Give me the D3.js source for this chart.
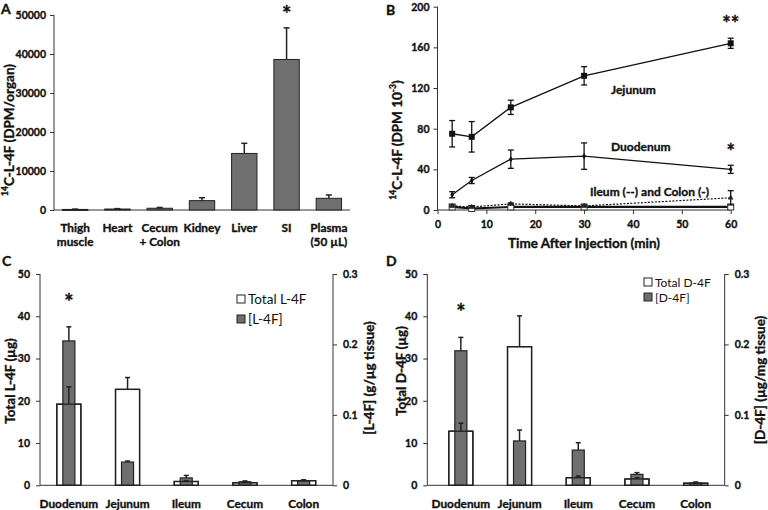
<!DOCTYPE html>
<html><head><meta charset="utf-8">
<script src="https://cdn.jsdelivr.net/npm/d3@7"></script>
<style>
body{margin:0;background:#fff;}
text{font-family:Lato,"Open Sans",sans-serif;}
</style></head>
<body><svg id="c" width="768" height="510"></svg>
<script>
// ---------- DATA ----------
// Panel A
const organsA = ["Thigh|muscle","Heart","Cecum|+ Colon","Kidney","Liver","SI","Plasma|(50 µL)"];
const dpmA = [150, 250, 450, 2400, 14500, 38600, 3000];
const dpmErrA = [80, 100, 200, 750, 2600, 8100, 850];
const ticksA = [0,10000,20000,30000,40000,50000];
// Panel B
const timesB = [3, 7, 15, 30, 60];
const jejunumB = [75, 72, 101, 132, 164];
const jejunumErrB = [13, 15, 7, 9, 5];
const duodenumB = [15, 29, 50, 53, 40];
const duodenumErrB = [3, 3, 9, 13, 4];
const ileumB = [4, 3, 6, 4, 12];
const ileumErrB = [1, 1, 1, 1, 7];
const colonB = [3, 1.5, 3, 3, 3];
const colonErrB = [0.5, 0.5, 0.5, 0.5, 0.5];
const ticksBy = [0,40,80,120,160,200];
const ticksBx = [0,10,20,30,40,50,60];
// Panels C and D
const segments = ["Duodenum","Jejunum","Ileum","Cecum","Colon"];
const totalL = [19.2, 22.7, 0.9, 0.6, 1.1];
const totalLErr = [4.1, 2.8, 0.2, 0.2, 0.2];
const concL = [0.205, 0.033, 0.0105, 0.005, 0.006];
const concLErr = [0.02, 0.0015, 0.0035, 0.0012, 0.001];
const totalD = [12.8, 32.8, 1.8, 1.5, 0.5];
const totalDErr = [1.9, 7.3, 0.4, 0.3, 0.2];
const concD = [0.191, 0.063, 0.050, 0.0155, 0.003];
const concDErr = [0.019, 0.0155, 0.0105, 0.0025, 0.0015];
const ticksCDleft = [0,10,20,30,40,50];
const ticksCDright = [0,0.1,0.2,0.3];

// ---------- DRAW ----------
const svg = d3.select("#c");
const GRAY = "#6f6f6f";
const BOLD = "bold";
const TICK = 10.5, CAT = 11.8, TITLE = 13.5;

function label(x,y,txt,opts={}){
  const w = opts.weight||BOLD;
  const t = svg.append("text").attr("x",x).attr("y",y)
    .attr("font-size",opts.size||12).attr("font-weight",w)
    .attr("text-anchor",opts.anchor||"middle").attr("fill","#111");
  if(w===BOLD) t.attr("stroke","#111").attr("stroke-width",0.35);
  if(opts.rot!==undefined){
    t.attr("transform",`rotate(${opts.rot},${x},${y})`).attr("dominant-baseline","central");
  }
  if(typeof txt==="function") txt(t); else t.text(txt);
  return t;
}
function styleAxis(g, size){
  g.selectAll("path,line").attr("stroke","#333").attr("stroke-width",1);
  g.selectAll("text").attr("font-size",size||TICK).attr("font-weight","bold")
    .attr("font-family","Lato,'Open Sans',sans-serif").attr("fill","#111")
    .attr("stroke","#111").attr("stroke-width",0.35);
}

// ===== Panel A =====
{
  const x = d3.scaleBand().domain(organsA).range([54,350]).paddingInner(0.4).paddingOuter(0.2);
  const y = d3.scaleLinear().domain([0,50000]).range([210,15]);
  const ga = svg.append("g").attr("transform","translate(54,0)")
    .call(d3.axisLeft(y).tickValues(ticksA).tickSize(4).tickPadding(4).tickFormat(d3.format("d")));
  ga.select(".domain").attr("d","M0,15V210");
  styleAxis(ga,TICK);
  svg.append("line").attr("x1",54).attr("x2",350).attr("y1",210).attr("y2",210).attr("stroke","#333");
  organsA.forEach((o,i)=>{
    const bx = x(o), bw = x.bandwidth();
    svg.append("rect").attr("x",bx).attr("width",bw).attr("y",y(dpmA[i]))
      .attr("height",Math.max(1,y(0)-y(dpmA[i]))).attr("fill",GRAY).attr("stroke","#222").attr("stroke-width",1);
    const cx = bx+bw/2;
    svg.append("line").attr("x1",cx).attr("x2",cx).attr("y1",y(dpmA[i])).attr("y2",y(dpmA[i]+dpmErrA[i])).attr("stroke","#222").attr("stroke-width",1.5);
    svg.append("line").attr("x1",cx-3).attr("x2",cx+3).attr("y1",y(dpmA[i]+dpmErrA[i])).attr("y2",y(dpmA[i]+dpmErrA[i])).attr("stroke","#222").attr("stroke-width",1.5);
    const parts = o.split("|");
    parts.forEach((p,k)=>label(cx,232+k*14,p,{size:CAT}));
  });
  label(x("SI")+x.bandwidth()/2,22,"*",{size:22});
  label(1,14,"A",{size:14,anchor:"start"});
  label(9,130,t=>{t.append("tspan").attr("font-size",8.5).attr("dy","-4").text("14");
    t.append("tspan").attr("dy","4").text("C-L-4F (DPM/organ)");},{size:TITLE,rot:-90});
}

// ===== Panel B =====
{
  const x = d3.scaleLinear().domain([0,60]).range([437.5,730.7]);
  const y = d3.scaleLinear().domain([0,200]).range([210,6.7]);
  const gy = svg.append("g").attr("transform","translate(437.5,0)")
    .call(d3.axisLeft(y).tickValues(ticksBy).tickSize(4).tickPadding(4));
  styleAxis(gy,TICK);
  gy.select(".domain").attr("d","M0,6.7V210");
  const gx = svg.append("g").attr("transform","translate(0,210)")
    .call(d3.axisBottom(x).tickValues(ticksBx).tickSize(4).tickPadding(7));
  styleAxis(gx,TICK);
  gx.select(".domain").attr("d","M437.5,0H730.7");
  const line = d3.line().x((d,i)=>x(timesB[i])).y(d=>y(d));
  function series(vals, errs, dash, width, marker){
    svg.append("path").attr("d",line(vals)).attr("fill","none").attr("stroke","#111")
      .attr("stroke-width",width).attr("stroke-dasharray",dash||null);
    vals.forEach((v,i)=>{
      const cx = x(timesB[i]);
      const lo=y(v-errs[i]), hi=y(v+errs[i]);
      svg.append("line").attr("x1",cx).attr("x2",cx).attr("y1",lo).attr("y2",hi).attr("stroke","#111").attr("stroke-width",1.3);
      [lo,hi].forEach(yy=>svg.append("line").attr("x1",cx-3).attr("x2",cx+3).attr("y1",yy).attr("y2",yy).attr("stroke","#111").attr("stroke-width",1.3));
      marker(cx,y(v));
    });
  }
  series(colonB, colonErrB, null, 2.2, (cx,cy)=>svg.append("rect").attr("x",cx-3).attr("y",cy-3).attr("width",6).attr("height",6).attr("fill","#fff").attr("stroke","#333").attr("stroke-width",1));
  series(ileumB, ileumErrB, "2,1.5", 1.2, (cx,cy)=>svg.append("path").attr("d",d3.symbol(d3.symbolTriangle,14)()).attr("transform",`translate(${cx},${cy})`).attr("fill","#222"));
  series(duodenumB, duodenumErrB, null, 1.3, (cx,cy)=>svg.append("path").attr("d",d3.symbol(d3.symbolDiamond,12)()).attr("transform",`translate(${cx},${cy})`).attr("fill","#111"));
  series(jejunumB, jejunumErrB, null, 1.3, (cx,cy)=>svg.append("rect").attr("x",cx-3).attr("y",cy-3).attr("width",6).attr("height",6).attr("fill","#111"));
  label(611,94,"Jejunum",{size:12,anchor:"start"});
  label(611,151,"Duodenum",{size:12,anchor:"start"});
  label(590,196,"Ileum (--) and Colon (-)",{size:12,anchor:"start"});
  label(x(60),31,"**",{size:20});
  label(x(60),159,"*",{size:20});
  label(584,248,"Time After Injection (min)",{size:TITLE});
  label(386,15,"B",{size:14,anchor:"start"});
  label(397,140,t=>{t.append("tspan").attr("font-size",8.5).attr("dy","-4").text("14");
    t.append("tspan").attr("dy","4").text("C-L-4F (DPM 10");
    t.append("tspan").attr("font-size",8.5).attr("dy","-4").text("-3");
    t.append("tspan").attr("dy","4").text(")");},{size:TITLE,rot:-90});
}

// ===== Panels C & D =====
function dualPanel(o){
  const x = d3.scaleBand().domain(segments).range([o.bx0,o.bx1]).paddingInner(0.59).paddingOuter(0.295);
  const yl = d3.scaleLinear().domain([0,50]).range([485.3,274]);
  const yr = d3.scaleLinear().domain([0,0.3]).range([485.3,274]);
  const gl = svg.append("g").attr("transform",`translate(${o.ax0},0)`)
    .call(d3.axisLeft(yl).tickValues(ticksCDleft).tickSize(4).tickPadding(6));
  styleAxis(gl,TICK); gl.select(".domain").attr("d","M0,274V485.3");
  const gr = svg.append("g").attr("transform",`translate(${o.ax1},0)`)
    .call(d3.axisRight(yr).tickValues(ticksCDright).tickSize(4).tickPadding(6).tickFormat(d=>d===0?"0":d3.format(".1f")(d)));
  styleAxis(gr,TICK); gr.select(".domain").attr("d","M0,274V485.3");
  svg.append("line").attr("x1",o.ax0).attr("x2",o.ax1).attr("y1",485.3).attr("y2",485.3).attr("stroke","#333");
  const errBar=(cx,y0,y1)=>{
    svg.append("line").attr("x1",cx).attr("x2",cx).attr("y1",y0).attr("y2",y1).attr("stroke","#222").attr("stroke-width",1.5);
    svg.append("line").attr("x1",cx-2.5).attr("x2",cx+2.5).attr("y1",y1).attr("y2",y1).attr("stroke","#222").attr("stroke-width",1.5);
  };
  segments.forEach((s,i)=>{
    const bx=x(s), bw=x.bandwidth(), cx=bx+bw/2;
    svg.append("rect").attr("x",bx).attr("width",bw).attr("y",yl(o.total[i])).attr("height",yl(0)-yl(o.total[i]))
      .attr("fill","#fff").attr("stroke","#222").attr("stroke-width",1.3);
    const gw = bw/2;
    svg.append("rect").attr("x",cx-gw/2).attr("width",gw).attr("y",yr(o.conc[i])).attr("height",yr(0)-yr(o.conc[i]))
      .attr("fill",GRAY).attr("stroke","#222").attr("stroke-width",1.2);
    // white bar outline drawn over the grey bar
    svg.append("rect").attr("x",bx).attr("width",bw).attr("y",yl(o.total[i])).attr("height",yl(0)-yl(o.total[i]))
      .attr("fill","none").attr("stroke","#222").attr("stroke-width",1.3);
    errBar(cx,yl(o.total[i]),yl(o.total[i]+o.totalErr[i]));
    errBar(cx,yr(o.conc[i]),yr(o.conc[i]+o.concErr[i]));
    label(cx,508,s,{size:CAT});
  });
  const sx = x("Duodenum")+x.bandwidth()/2;
  label(sx,o.starY,"*",{size:22});
  // legend
  svg.append("rect").attr("x",o.lx).attr("y",o.ly-5).attr("width",8).attr("height",8).attr("fill","#fff").attr("stroke","#222");
  label(o.lx+11,o.ly+3.5,o.leg1,{size:o.lsize,weight:"normal",anchor:"start"});
  svg.append("rect").attr("x",o.lx).attr("y",o.ly+o.lgap-5).attr("width",8).attr("height",8).attr("fill",GRAY).attr("stroke","#222");
  label(o.lx+11,o.ly+o.lgap+3.5,o.leg2,{size:o.lsize,weight:"normal",anchor:"start"});
  label(o.px,266,o.panel,{size:14,anchor:"start"});
  label(o.llx,o.lly,o.lTitle,{size:TITLE,rot:-90});
  label(o.rlx,o.rly,o.rTitle,{size:TITLE,rot:-90});
}
dualPanel({bx0:39.5,bx1:333,ax0:40,ax1:333,total:totalL,totalErr:totalLErr,conc:concL,concErr:concLErr,
  starY:310,lx:237,ly:300,lgap:20,lsize:13.5,leg1:"Total L-4F",leg2:"[L-4F]",px:2,panel:"C",
  llx:10,lly:381,lTitle:"Total L-4F (µg)",rlx:369,rly:378,rTitle:"[L-4F] (g/µg tissue)"});
dualPanel({bx0:431.5,bx1:725,ax0:427.3,ax1:724.7,total:totalD,totalErr:totalDErr,conc:concD,concErr:concDErr,
  starY:320,lx:644,ly:283,lgap:15,lsize:12,leg1:"Total D-4F",leg2:"[D-4F]",px:386,panel:"D",
  llx:401,lly:371,lTitle:"Total D-4F (µg)",rlx:760,rly:380,rTitle:"[D-4F] (µg/mg tissue)"});
</script></body></html>
